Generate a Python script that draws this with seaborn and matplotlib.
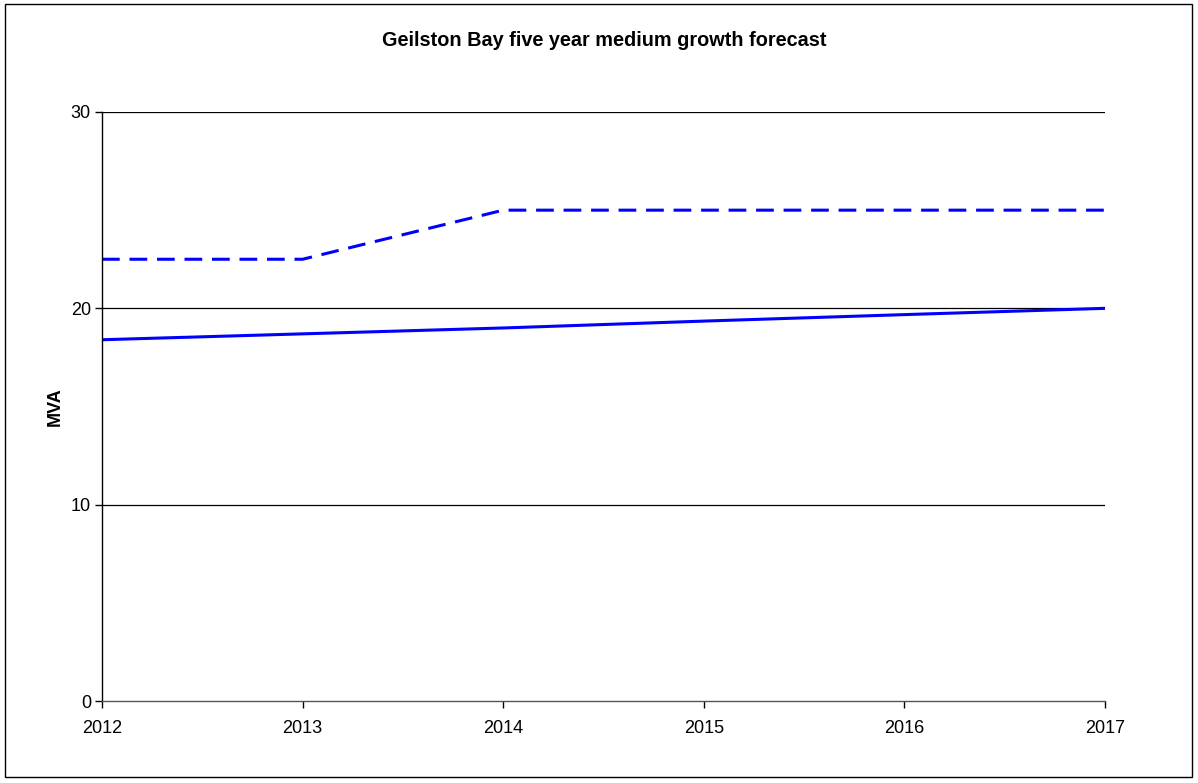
import matplotlib
matplotlib.use("Agg")
import matplotlib.pyplot as plt
import seaborn as sns
import pandas as pd
from matplotlib.patches import Rectangle

years = [2012, 2013, 2014, 2015, 2016, 2017]
forecast = [18.4, 18.7, 19.0, 19.35, 19.68, 20.0]
rating = [22.5, 22.5, 25.0, 25.0, 25.0, 25.0]
title = "Geilston Bay five year medium growth forecast"
ylabel = "MVA"

sns.set_theme(style="white")
plt.rcParams['font.family'] = ['Liberation Sans', 'DejaVu Sans']

df = pd.DataFrame({"year": years, "forecast": forecast, "rating": rating})

fig = plt.figure(figsize=(11.98, 7.83), dpi=100)
ax = fig.add_axes([102/1198, 1 - 701/783, (1105 - 102)/1198, (701 - 112)/783])

sns.lineplot(data=df, x="year", y="rating", ax=ax, color="#0000ff", lw=2.2,
             linestyle=(0, (5.8, 3.2)))
sns.lineplot(data=df, x="year", y="forecast", ax=ax, color="#0000ff", lw=2.2)

ax.set_xlim(2012, 2017)
ax.set_ylim(0, 30)
ax.set_xticks(years)
ax.set_xticklabels([str(y) for y in years])
ax.set_yticks([0, 10, 20, 30])
for yv in [10, 20, 30]:
    ax.axhline(yv, color="black", lw=0.9, zorder=0)

for s in ["top", "right"]:
    ax.spines[s].set_visible(False)
for s in ["left", "bottom"]:
    ax.spines[s].set_color("black")
    ax.spines[s].set_linewidth(1.0)
ax.spines["bottom"].set_color("#555555")

ax.tick_params(axis="both", which="major", direction="out", length=5, width=1,
               color="black", labelsize=13, labelcolor="black", pad=3, bottom=True, left=True)
ax.tick_params(axis="x", pad=9)
ax.set_xlabel("")
ax.set_ylabel(ylabel, fontsize=13, fontweight="bold", color="black")
ax.yaxis.set_label_coords(-38/1003, 0.5)
ax.grid(False)

fig.text(604/1198, 1 - 41/783, title, ha="center", va="center", fontsize=14.3,
         fontweight="bold", color="black")

fig.patches.append(Rectangle((5/1198, 1 - 777/783), (1192 - 5)/1198, (777 - 4)/783,
                             transform=fig.transFigure, fill=False, edgecolor="black", lw=1))

fig.savefig("out.png", dpi=100)
